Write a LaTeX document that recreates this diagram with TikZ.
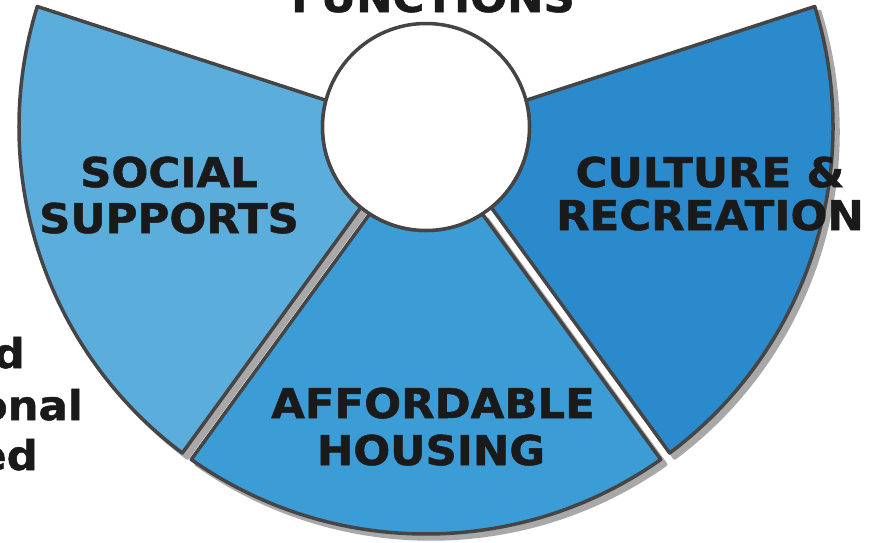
\documentclass[tikz,border=0pt]{standalone}
\usepackage{fontspec}
\setmainfont{DejaVu Sans}
\newfontfamily\lblfont{DejaVu Sans}[FakeStretch=1.06, FakeBold=1.2]
\definecolor{socialc}{HTML}{5BAEDC}
\definecolor{housingc}{HTML}{3C9CD6}
\definecolor{culturec}{HTML}{2A8ACB}
\definecolor{outlinec}{HTML}{454545}
\definecolor{shadowc}{HTML}{A8A8A8}
\definecolor{textc}{HTML}{1A1A1A}
\newcommand\fanwedge[3]{%
  \pgfmathsetmacro\aoA{#2+0.774}%
  \pgfmathsetmacro\aoB{#3-0.774}%
  \pgfmathsetmacro\aiA{#2+3.046}%
  \pgfmathsetmacro\aiB{#3-3.046}%
  \path[#1] (\aoA:407) arc[start angle=\aoA, end angle=\aoB, radius=407] -- (\aiB:103.5) arc[start angle=\aiB, end angle=\aiA, radius=103.5] -- cycle;}
\tikzset{
  wedgeline/.style={draw=outlinec, line width=3.5pt, line join=round},
  shadowfill/.style={fill=shadowc, draw=shadowc, line width=3.5pt, line join=round},
  lbl/.style={font=\fontsize{41}{46}\selectfont\lblfont\bfseries, text=textc, inner sep=0pt, anchor=base},
  lblr/.style={lbl, anchor=base east}
}
\begin{document}
\begin{tikzpicture}[x=1pt,y=1pt]
\fill[white] (0,0) rectangle (877,-542);
\useasboundingbox (0,0) rectangle (877,-542);
% shadows
\begin{scope}[shift={(431,-132)}]
  \fanwedge{shadowfill}{162}{234}
  \fanwedge{shadowfill}{234}{306}
  \fanwedge{shadowfill}{306}{378}
\end{scope}
% wedges
\begin{scope}[shift={(426,-127)}]
  \fanwedge{wedgeline, fill=socialc}{162}{234}
  \fanwedge{wedgeline, fill=housingc}{234}{306}
  \fanwedge{wedgeline, fill=culturec}{306}{378}
\end{scope}
% hub
\node[circle, draw=outlinec, line width=3.5pt, fill=white, minimum size=207pt, inner sep=0pt] (hub) at (426,-127) {};
% labels
\node[lbl] (fn) at (433,-12) {FUNCTIONS};
\node[lbl] (soc1) at (169,-187) {SOCIAL};
\node[lbl] (soc2) at (169,-233) {SUPPORTS};
\node[lbl] (cul1) at (710,-187) {CULTURE \&};
\node[lbl] (cul2) at (710,-230) {RECREATION};
\node[lbl] (aff1) at (433,-418) {AFFORDABLE};
\node[lbl] (aff2) at (431,-465) {HOUSING};
\node[lblr] (l1) at (25,-368) {d};
\node[lblr] (l2) at (83,-420) {onal};
\node[lblr] (l3) at (38,-470) {ed};
\end{tikzpicture}
\end{document}
